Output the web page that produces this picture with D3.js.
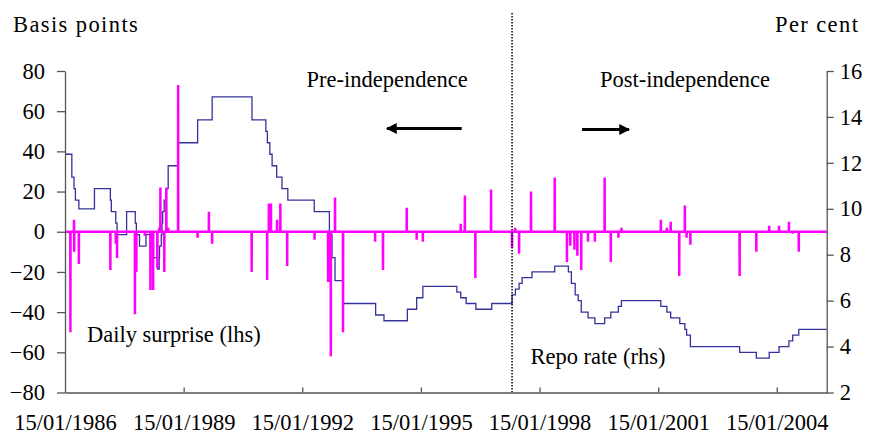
<!DOCTYPE html>
<html>
<head>
<meta charset="utf-8">
<script src="https://cdn.jsdelivr.net/npm/d3@7/dist/d3.min.js"></script>
<style>
  html, body { margin: 0; padding: 0; background: #fff; }
  svg { display: block; }
  text { font-family: "Liberation Serif", "Times New Roman", serif; fill: #000; }
</style>
</head>
<body>
<svg id="chart" width="874" height="437"></svg>
<script>
// ---- Data ----
const xStart = "1986-01-15";
const xEnd = "2005-04-20";
const independenceDate = "1997-05-06";

const xTickLabels = ["15/01/1986", "15/01/1989", "15/01/1992", "15/01/1995", "15/01/1998", "15/01/2001", "15/01/2004"];
const leftTicks = [-80, -60, -40, -20, 0, 20, 40, 60, 80];
const rightTicks = [2, 4, 6, 8, 10, 12, 14, 16];

// Repo rate (rhs, per cent) - step series
const repoDates = [
  "1986-01-15","1986-03-19","1986-04-08","1986-04-21","1986-05-23","1986-10-14",
  "1987-03-10","1987-03-19","1987-04-29","1987-05-11","1987-08-07","1987-10-26","1987-11-05","1987-12-04",
  "1988-02-02","1988-03-17","1988-04-11","1988-05-18","1988-06-03","1988-06-06","1988-06-22","1988-06-29",
  "1988-07-05","1988-07-19","1988-08-08","1988-08-25","1988-11-25",
  "1989-05-24","1989-10-05","1990-10-08",
  "1991-02-13","1991-02-27","1991-03-22","1991-04-12","1991-05-24","1991-07-12","1991-09-04",
  "1992-05-05","1992-09-22","1992-10-16","1992-11-13","1993-01-26","1993-11-23",
  "1994-02-08","1994-09-12","1994-12-07","1995-02-02","1995-12-13",
  "1996-01-18","1996-03-08","1996-06-06","1996-10-30",
  "1997-05-06","1997-06-06","1997-07-10","1997-08-07","1997-11-06",
  "1998-06-04","1998-10-08","1998-11-05","1998-12-10",
  "1999-01-07","1999-02-04","1999-04-08","1999-06-10","1999-09-08","1999-11-04",
  "2000-01-13","2000-02-10",
  "2001-02-08","2001-04-05","2001-05-10","2001-08-02","2001-09-18","2001-10-04","2001-11-08",
  "2003-02-06","2003-07-10","2003-11-06",
  "2004-02-05","2004-05-06","2004-06-10","2004-08-05","2005-04-20"
];
const repoValues = [
  12.375,11.375,10.875,10.375,10,10.875,
  10.375,9.875,9.375,8.875,9.875,9.375,8.875,8.375,
  8.875,8.375,7.875,7.375,7.875,8.375,8.875,9.375,
  9.875,10.375,10.875,11.875,12.875,
  13.875,14.875,13.875,
  13.375,12.875,12.375,11.875,11.375,10.875,10.375,
  9.875,8.875,7.875,6.875,5.875,5.375,
  5.125,5.625,6.125,6.625,6.375,
  6.125,5.875,5.625,5.875,
  6.25,6.5,6.75,7,7.25,
  7.5,7.25,6.75,6.25,
  6,5.5,5.25,5,5.25,5.5,
  5.75,6,
  5.75,5.5,5.25,5,4.75,4.5,4,
  3.75,3.5,3.75,
  4,4.25,4.5,4.75,4.75
];

// Daily surprise (lhs, basis points) - non-zero days only
const surpriseDates = [
  "1986-03-06","1986-04-08","1986-04-10","1986-05-23",
  "1987-03-10","1987-04-29","1987-05-11","1987-10-23","1987-11-05",
  "1988-01-22","1988-03-14","1988-04-08","1988-05-17","1988-06-03","1988-06-14","1988-07-20","1988-08-08","1988-08-25","1988-11-25",
  "1989-05-24","1989-09-05","1989-10-05",
  "1990-10-05",
  "1991-02-25","1991-03-13","1991-04-01","1991-05-28","1991-06-27","1991-08-29",
  "1992-05-08","1992-09-10","1992-09-17","1992-10-05","1992-11-13",
  "1993-01-26","1993-11-18",
  "1994-01-30","1994-09-06","1994-12-07","1995-02-02",
  "1996-01-18","1996-02-25","1996-06-01","1996-10-24",
  "1997-05-06","1997-06-04","1997-07-10","1997-10-28",
  "1998-06-04","1998-09-25","1998-10-26","1998-12-03","1998-12-30",
  "1999-02-04","1999-04-08","1999-06-10","1999-09-08","1999-11-04",
  "2000-01-13","2000-02-10",
  "2001-02-08","2001-04-05","2001-05-10","2001-07-28","2001-09-18","2001-10-04","2001-11-08",
  "2003-02-06","2003-07-10","2003-11-06",
  "2004-02-05","2004-05-06","2004-06-10","2004-08-05"
];
const surpriseValues = [
  -50,6,-10,-16,
  -19,-6,-13,-41,-20,
  -2,-29,-29,-18,2,22,-20,22,2,73,
  -3,10,-6,
  -20,
  -24,14,14,6,14,-17,
  -4,-25,-25,-62,17,
  -50,-5,
  -19,12,-4,-5,
  4,18,-23,21,
  -8,2,-11,20,
  27,-15,-7,-9,-12,
  -19,-5,-5,27,-15,
  -3,2,
  6,2,5,-22,13,-3,-6.5,
  -22,-10,3,
  3,5,-1,-10
];

// ---- Layout ----
const parse = d3.utcParse("%Y-%m-%d");
const svg = d3.select("#chart");
const plot = { left: 65, right: 826.7, top: 71, bottom: 392.5 };
const FS = 22.5;

const x = d3.scaleUtc().domain([parse(xStart), parse(xEnd)]).range([plot.left, plot.right]);
const yL = d3.scaleLinear().domain([-80, 80]).range([plot.bottom, plot.top]);
const yR = d3.scaleLinear().domain([2, 16]).range([plot.bottom, plot.top]);

const axisColor = "#555";

// Repo rate line
const repo = repoDates.map((d, i) => ({ date: parse(d), v: repoValues[i] }));
svg.append("path")
  .datum(repo)
  .attr("fill", "none")
  .attr("stroke", "#333399")
  .attr("stroke-width", 1.3)
  .attr("d", d3.line().curve(d3.curveStepAfter).x(d => x(d.date)).y(d => yR(d.v)));

// Daily surprise line (zero on other days)
const DAY = 86400000;
const surprisePts = [{ date: parse(xStart), v: 0 }];
surpriseDates.forEach((d, i) => {
  const t = parse(d);
  surprisePts.push({ date: new Date(t.getTime() - DAY), v: 0 });
  surprisePts.push({ date: t, v: surpriseValues[i] });
  surprisePts.push({ date: new Date(t.getTime() + DAY), v: 0 });
});
surprisePts.push({ date: parse(xEnd), v: 0 });
svg.append("path")
  .datum(surprisePts)
  .attr("fill", "none")
  .attr("stroke", "#ff00ff")
  .attr("stroke-width", 2.5)
  .attr("stroke-linejoin", "bevel")
  .attr("d", d3.line().x(d => x(d.date)).y(d => yL(d.v)));

// Independence dotted line
svg.append("line")
  .attr("x1", x(parse(independenceDate))).attr("x2", x(parse(independenceDate)))
  .attr("y1", 13).attr("y2", plot.bottom)
  .attr("stroke", "#000").attr("stroke-width", 1.5)
  .attr("stroke-dasharray", "1.5,1.5");

// Axes
const gL = svg.append("g").attr("transform", `translate(${plot.left},0)`)
  .call(d3.axisLeft(yL).tickValues(leftTicks).tickSizeInner(8).tickSizeOuter(0).tickPadding(12));
const gR = svg.append("g").attr("transform", `translate(${plot.right},0)`)
  .call(d3.axisRight(yR).tickValues(rightTicks).tickSizeInner(7).tickSizeOuter(0).tickPadding(6));
const xTickDates = xTickLabels.map(s => d3.utcParse("%d/%m/%Y")(s));
const gB = svg.append("g").attr("transform", `translate(0,${plot.bottom})`)
  .call(d3.axisBottom(x).tickValues(xTickDates).tickFormat((d, i) => xTickLabels[i]).tickSizeInner(-5).tickSizeOuter(0));
gB.selectAll(".tick text").attr("y", 22).attr("dy", "0.71em");

[gL, gR, gB].forEach(g => {
  g.selectAll("path.domain").attr("stroke", axisColor).attr("stroke-width", 1.3);
  g.selectAll(".tick line").attr("stroke", axisColor).attr("stroke-width", 1.3);
  g.selectAll(".tick text").attr("font-size", FS).attr("font-family", "Liberation Serif").attr("fill", "#000");
});
gB.selectAll(".tick").filter((d, i) => i === 0).select("line").remove();

// Titles & annotations
function label(txt, xx, yy, opts = {}) {
  const t = svg.append("text").attr("x", xx).attr("y", yy).attr("font-size", FS).text(txt);
  if (opts.ls) t.attr("letter-spacing", opts.ls);
  if (opts.anchor) t.attr("text-anchor", opts.anchor);
  return t;
}
label("Basis points", 13, 32, { ls: 1.4 });
label("Per cent", 775, 32, { ls: 1.4 });
label("Pre-independence", 306.5, 87);
label("Post-independence", 600, 87);
label("Daily surprise (lhs)", 87, 342);
label("Repo rate (rhs)", 530.5, 364);

// Arrows
const defs = svg.append("defs");
defs.append("marker").attr("id", "ah")
  .attr("viewBox", "0 0 10 10").attr("refX", 9).attr("refY", 5)
  .attr("markerWidth", 4.3).attr("markerHeight", 3.6).attr("markerUnits", "strokeWidth")
  .attr("orient", "auto")
  .append("path").attr("d", "M0,0 L10,5 L0,10 Z").attr("fill", "#000");
svg.append("line").attr("x1", 461.7).attr("y1", 128.5).attr("x2", 387).attr("y2", 128.5)
  .attr("stroke", "#000").attr("stroke-width", 3).attr("marker-end", "url(#ah)");
svg.append("line").attr("x1", 582).attr("y1", 129.5).attr("x2", 629).attr("y2", 129.5)
  .attr("stroke", "#000").attr("stroke-width", 3).attr("marker-end", "url(#ah)");
</script>
</body>
</html>
